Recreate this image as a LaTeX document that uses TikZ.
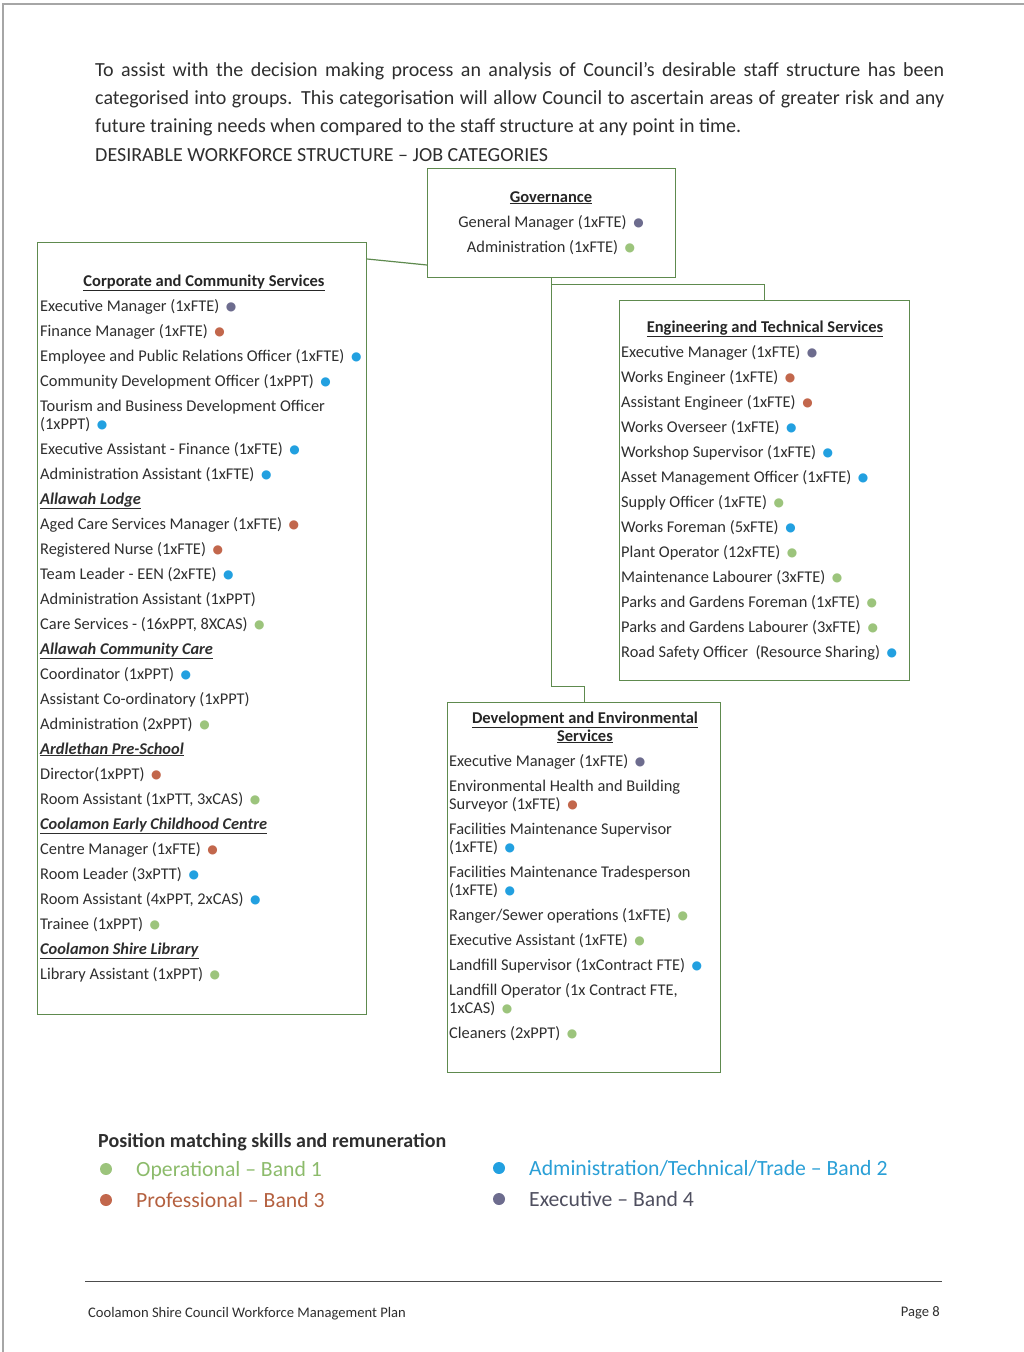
\documentclass[tikz,border=0pt]{standalone}
\usepackage{fontspec}
\setmainfont{Carlito}
\newfontfamily\dotfont{DejaVu Sans}
\usepackage{xcolor}
\usetikzlibrary{positioning}
\definecolor{cEdge}{HTML}{5E8A4E}
\definecolor{cOper}{HTML}{9CC47C}
\definecolor{cProf}{HTML}{C2674C}
\definecolor{cAdmin}{HTML}{22A0E0}
\definecolor{cExec}{HTML}{6D6C8E}
\definecolor{cOperTxt}{HTML}{8CBB6B}
\definecolor{cProfTxt}{HTML}{B4603F}
\definecolor{cAdminTxt}{HTML}{2A9FD6}
\definecolor{cExecTxt}{HTML}{4F4F5F}
% band dot after a job title
\newcommand\band[1]{\hspace{0.4em}\raisebox{0.06em}{\dotfont\fontsize{12}{12}\selectfont\textcolor{#1}{●}}}
\newcommand\bG{\band{cOper}}
\newcommand\bR{\band{cProf}}
\newcommand\bB{\band{cAdmin}}
\newcommand\bP{\band{cExec}}
% sub-unit heading inside a box
\newcommand\subunit[1]{\underline{\textbf{\textit{#1}}}}

\begin{document}
\begin{tikzpicture}[
  x=1pt, y=-1pt,
  font=\fontsize{16.4}{18}\selectfont,
  unitbox/.style = {draw=cEdge, line width=1.2pt, inner sep=0pt, anchor=north west},
  item/.style    = {anchor=base west, inner sep=0pt, yshift=-5pt, text=black!82},
  unithd/.style  = {anchor=base, inner sep=0pt, yshift=-5pt, text=black!85,
                    font=\fontsize{16.5}{18}\selectfont\bfseries},
  link/.style    = {draw=cEdge, line width=1.2pt},
  key/.style     = {circle, inner sep=0pt, minimum size=12pt},
  keytxt/.style  = {anchor=base west, inner sep=0pt, yshift=-7.5pt,
                    font=\fontsize{21.7}{24}\selectfont},
]
\useasboundingbox (0,0) rectangle (1024,1352);
% scan edge
\draw[black!35, line width=2pt] (3,1352) -- (3,4) -- (1024,4);

% intro text
\node[item, yshift=-1pt, font=\fontsize{20}{22}\selectfont] (intro1) at (95,70)
  {\makebox[849pt][s]{To assist with the decision making process an analysis of Council’s desirable staff structure has been}};
\node[item, yshift=-1pt, font=\fontsize{20}{22}\selectfont] (intro2) at (95,98)
  {\makebox[849pt][s]{categorised into groups.  This categorisation will allow Council to ascertain areas of greater risk and any}};
\node[item, yshift=-1pt, font=\fontsize{20}{22}\selectfont] (intro3) at (95,126)
  {future training needs when compared to the staff structure at any point in time.};
\node[item, yshift=-1pt, font=\fontsize{20}{22}\selectfont] (chartT) at (95,155)
  {DESIRABLE WORKFORCE STRUCTURE – JOB CATEGORIES};

% unit boxes
\node[unitbox, minimum width=248pt, minimum height=109pt] (gov)  at (427,168) {};
\node[unitbox, minimum width=329pt, minimum height=772pt] (corp) at (37,242)  {};
\node[unitbox, minimum width=290pt, minimum height=380pt] (eng)  at (619,300) {};
\node[unitbox, minimum width=273pt, minimum height=370pt] (dev)  at (447,702) {};

\draw[link] ([yshift=-17pt]corp.north east) -- ([yshift=-97pt]gov.north west);
\draw[link] (gov.south) -- ++(0,6) -| (eng.north);
\draw[link] (gov.south) -- ++(0,408) -| (dev.north);

% Governance
\node[unithd] (govT) at (551,197) {\underline{Governance}};
\node[item, anchor=base] (gov1) at (551,222) {General Manager (1xFTE)\bP};
\node[item, anchor=base] (gov2) at (551,247) {Administration (1xFTE)\bG};

% Corporate and Community Services
\node[unithd] (csT) at (204,281) {\underline{Corporate and Community Services}};
\foreach \y/\t [count=\i] in {
  306/{Executive Manager (1xFTE)\bP},
  331/{Finance Manager (1xFTE)\bR},
  356/{Employee and Public Relations Officer (1xFTE)\bB},
  381/{Community Development Officer (1xPPT)\bB},
  406/{Tourism and Business Development Officer},
  424/{(1xPPT)\bB},
  449/{Executive Assistant - Finance (1xFTE)\bB},
  474/{Administration Assistant (1xFTE)\bB},
  499/{\subunit{Allawah Lodge}},
  524/{Aged Care Services Manager (1xFTE)\bR},
  549/{Registered Nurse (1xFTE)\bR},
  574/{Team Leader - EEN (2xFTE)\bB},
  599/{Administration Assistant (1xPPT)},
  624/{Care Services - (16xPPT, 8XCAS)\bG},
  649/{\subunit{Allawah Community Care}},
  674/{Coordinator (1xPPT)\bB},
  699/{Assistant Co-ordinatory (1xPPT)},
  724/{Administration (2xPPT)\bG},
  749/{\subunit{Ardlethan Pre-School}},
  774/{Director(1xPPT)\bR},
  799/{Room Assistant (1xPTT, 3xCAS)\bG},
  824/{\subunit{Coolamon Early Childhood Centre}},
  849/{Centre Manager (1xFTE)\bR},
  874/{Room Leader (3xPTT)\bB},
  899/{Room Assistant (4xPPT, 2xCAS)\bB},
  924/{Trainee (1xPPT)\bG},
  949/{\subunit{Coolamon Shire Library}},
  974/{Library Assistant (1xPPT)\bG}}
  \node[item] (cs\i) at (40,\y) {\t};

% Engineering and Technical Services
\node[unithd] (etT) at (765,327) {\underline{Engineering and Technical Services}};
\foreach \y/\t [count=\i] in {
  352/{Executive Manager (1xFTE)\bP},
  377/{Works Engineer (1xFTE)\bR},
  402/{Assistant Engineer (1xFTE)\bR},
  427/{Works Overseer (1xFTE)\bB},
  452/{Workshop Supervisor (1xFTE)\bB},
  477/{Asset Management Officer (1xFTE)\bB},
  502/{Supply Officer (1xFTE)\bG},
  527/{Works Foreman (5xFTE)\bB},
  552/{Plant Operator (12xFTE)\bG},
  577/{Maintenance Labourer (3xFTE)\bG},
  602/{Parks and Gardens Foreman (1xFTE)\bG},
  627/{Parks and Gardens Labourer (3xFTE)\bG},
  652/{Road Safety Officer\ \ (Resource Sharing)\bB}}
  \node[item] (et\i) at (621,\y) {\t};

% Development and Environmental Services
\node[unithd] (deT1) at (585,718) {\underline{Development and Environmental}};
\node[unithd] (deT2) at (585,736) {\underline{Services}};
\foreach \y/\t [count=\i] in {
  761/{Executive Manager (1xFTE)\bP},
  786/{Environmental Health and Building},
  804/{Surveyor (1xFTE)\bR},
  829/{Facilities Maintenance Supervisor},
  847/{(1xFTE)\bB},
  872/{Facilities Maintenance Tradesperson},
  890/{(1xFTE)\bB},
  915/{Ranger/Sewer operations (1xFTE)\bG},
  940/{Executive Assistant (1xFTE)\bG},
  965/{Landfill Supervisor (1xContract FTE)\bB},
  990/{Landfill Operator (1x Contract FTE,},
  1008/{1xCAS)\bG},
  1033/{Cleaners (2xPPT)\bG}}
  \node[item] (de\i) at (449,\y) {\t};

% legend
\node[item, yshift=-2pt, font=\fontsize{20}{22}\selectfont\bfseries] (keyT) at (98,1140)
  {Position matching skills and remuneration};
\node[key, fill=cOper]  (kOp)  at (106,1169) {};
\node[key, fill=cProf]  (kPr)  at (106,1200) {};
\node[key, fill=cAdmin] (kAd)  at (499,1168) {};
\node[key, fill=cExec]  (kEx)  at (499,1199) {};
\node[keytxt, text=cOperTxt]  (kOpT) at (136,1169) {Operational – Band 1};
\node[keytxt, text=cProfTxt]  (kPrT) at (136,1200) {Professional – Band 3};
\node[keytxt, text=cAdminTxt] (kAdT) at (529,1168) {Administration/Technical/Trade – Band 2};
\node[keytxt, text=cExecTxt]  (kExT) at (529,1199) {Executive – Band 4};

% footer
\draw[black!70, line width=1pt] (85,1281) -- (942,1281);
\node[item, font=\fontsize{14.6}{16}\selectfont] (foot) at (88,1312)
  {Coolamon Shire Council Workforce Management Plan};
\node[item, anchor=base east, font=\fontsize{14.6}{16}\selectfont] (page) at (940,1311)
  {Page 8};
\end{tikzpicture}
\end{document}
